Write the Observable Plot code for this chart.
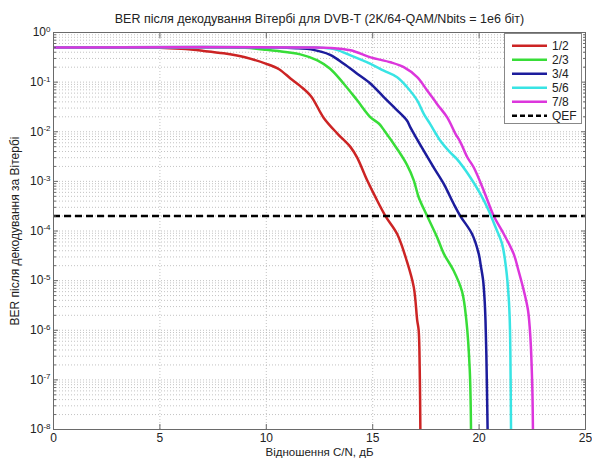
<!DOCTYPE html>
<html><head><meta charset="utf-8">
<script src="https://cdn.jsdelivr.net/npm/d3@7"></script>
<script src="https://cdn.jsdelivr.net/npm/@observablehq/plot@0.6"></script>
<style>
body{margin:0;background:#fff;font-family:"Liberation Sans",Arial,sans-serif;}
#wrap{position:relative;width:592px;height:462px;}
</style></head><body><div id="wrap"></div>
<script>
const titleText = "BER після декодування Вітербі для DVB-T (2K/64-QAM/Nbits = 1e6 біт)";
const xLabel = "Відношення C/N, дБ";
const yLabel = "BER після декодування за Вітербі";
const seriesNames = ["1/2","2/3","3/4","5/6","7/8"];
const seriesColors = ["#cc2424","#38dd38","#1c1c9c","#38e4e4","#dc36dc"];
const qefName = "QEF";
const qefLevel = 2e-4;
const xTicks = [0,5,10,15,20,25];
const yTickExps = [0,-1,-2,-3,-4,-5,-6,-7,-8];

const snr12 = [0,4,5,6,7,8,9,10,10.6,11.15,11.6,12.1,12.7,13.35,13.96,14.27,14.74,15.13,15.6,16.15,16.6,16.93,17.09,17.16,17.21,17.24];
const ber12 = [0.5,0.5,0.495,0.468,0.427,0.38,0.316,0.234,0.182,0.117,0.083,0.052,0.019,0.0091,0.0049,0.003,0.00105,4.8e-4,2.0e-4,8.7e-5,2.5e-5,7.4e-6,1.6e-6,1e-6,1.6e-7,1e-8];
const snr23 = [0,8,9,10,11,11.6,12.4,13.0,13.64,14.27,14.9,15.3,15.55,16.15,16.6,16.93,17.16,17.56,18.03,18.34,18.8,19.2,19.4,19.56,19.62];
const ber23 = [0.5,0.5,0.49,0.447,0.398,0.363,0.275,0.186,0.093,0.043,0.0195,0.0145,0.0105,0.0045,0.0022,0.00105,4.8e-4,2.0e-4,7.4e-5,3.5e-5,1.6e-5,6e-6,1.6e-6,1.6e-7,1e-8];
const snr34 = [0,10.5,11.5,12.1,13,13.64,14.27,14.9,15.52,16.15,16.6,16.77,17.3,17.87,18.34,18.81,19.12,19.67,19.98,20.08,20.19,20.26,20.3,20.34,20.4];
const ber34 = [0.5,0.5,0.479,0.457,0.355,0.234,0.148,0.093,0.05,0.027,0.017,0.0123,0.0049,0.0019,8.9e-4,3.5e-4,2.0e-4,8.7e-5,3.5e-5,2e-5,1e-5,4e-6,1.6e-6,3.4e-7,1e-8];
const snr56 = [0,12,12.7,13.3,13.96,14.9,15.52,16.15,16.62,17.09,17.4,17.71,18.18,18.65,18.96,19.59,20.06,20.45,20.77,21.08,21.28,21.39,21.44,21.47,21.5];
const ber56 = [0.5,0.5,0.49,0.447,0.347,0.234,0.17,0.126,0.079,0.043,0.023,0.0141,0.0066,0.0038,0.0028,0.0012,5.6e-4,2.6e-4,1.2e-4,5.5e-5,1.6e-5,4.6e-6,1.6e-6,3.4e-7,1e-8];
const snr78 = [0,12,13,13.96,14.9,15.84,16.46,17.09,17.56,18.03,18.5,18.89,19.12,19.44,19.75,20.22,20.69,21.16,21.62,21.85,22.1,22.3,22.41,22.5,22.53];
const ber78 = [0.5,0.5,0.49,0.437,0.316,0.251,0.2,0.126,0.068,0.036,0.0195,0.0091,0.0062,0.0031,0.0019,6.5e-4,2.0e-4,8.7e-5,3.5e-5,1.6e-5,6.3e-6,2.5e-6,7.2e-7,7e-8,1e-8];

const seriesX = [snr12, snr23, snr34, snr56, snr78];
const seriesY = [ber12, ber23, ber34, ber56, ber78];
const data = seriesNames.flatMap((name, i) => seriesX[i].map((x, j) => ({name, x, y: seriesY[i][j]})));

const yMajor = yTickExps.map(e => Math.pow(10, e));
const yMinor = [];
for (const e of yTickExps) { if (e === 0) continue; for (let k = 2; k <= 9; k++) yMinor.push(k * Math.pow(10, e)); }

const gridStyle = {stroke: "#b4b4b4", strokeDasharray: "1,2", strokeWidth: 0.8};
const axisColor = "#6a6a6a";
const blank = () => "";

const chart = Plot.plot({
  width: 592, height: 462,
  marginLeft: 53, marginRight: 7, marginTop: 32, marginBottom: 33,
  style: {fontFamily: '"Liberation Sans", Arial, sans-serif', fontSize: "12px", color: "#222", background: "#fff"},
  x: {domain: [0, 25]},
  y: {type: "log", domain: [1e-8, 1]},
  color: {domain: seriesNames, range: seriesColors},
  marks: [
    Plot.ruleY(yMajor.concat(yMinor), gridStyle),
    Plot.ruleX(xTicks.slice(1, -1), gridStyle),
    Plot.line(data, {x: "x", y: "y", z: "name", stroke: "name", strokeWidth: 2.5, curve: "catmull-rom", clip: true}),
    Plot.ruleY([qefLevel], {stroke: "#000", strokeWidth: 2.5, strokeDasharray: "7,4"}),
    Plot.frame({stroke: axisColor}),
    Plot.axisX({ticks: xTicks, tickSize: -5, tickPadding: 9, label: null, stroke: axisColor, fontSize: 12}),
    Plot.axisX({anchor: "top", ticks: xTicks, tickSize: -5, tickFormat: blank, label: null, stroke: axisColor}),
    Plot.axisY({ticks: yMajor, tickSize: -5, tickPadding: 8, tickFormat: d => `10^${Math.round(Math.log10(d))}`, label: null, stroke: axisColor, fontSize: 12}),
    Plot.axisY({ticks: yMinor, tickSize: -3, tickFormat: blank, label: null, stroke: axisColor}),
    Plot.axisY({anchor: "right", ticks: yMajor, tickSize: -5, tickFormat: blank, label: null, stroke: axisColor}),
    Plot.axisY({anchor: "right", ticks: yMinor, tickSize: -3, tickFormat: blank, label: null, stroke: axisColor}),
    Plot.text([titleText], {text: d => d, frameAnchor: "top", dy: -18, fontSize: 12.5, fill: "#222"}),
    Plot.text([xLabel], {text: d => d, frameAnchor: "bottom", dy: 26.5, fontSize: 11.5, fill: "#222"}),
    Plot.text([yLabel], {text: d => d, frameAnchor: "left", textAnchor: "middle", rotate: -90, dx: -38, fontSize: 12, fill: "#222"})
  ]
});
document.getElementById("wrap").appendChild(chart);

// superscript exponents for log tick labels
d3.select(chart).selectAll("text").each(function() {
  const t = this.textContent;
  const m = /^10\^(-?\d+)$/.exec(t);
  if (!m) return;
  const sel = d3.select(this);
  sel.text("10");
  sel.append("tspan").attr("dy", "-0.55em").attr("font-size", "8px").text(m[1]);
});

// legend
const legendItems = seriesNames.map((n, i) => ({name: n, color: seriesColors[i], dash: null}))
  .concat([{name: qefName, color: "#000", dash: "5,3"}]);
const lg = d3.select("#wrap").append("svg")
  .style("position", "absolute").style("left", "504px").style("top", "33px")
  .attr("width", 78).attr("height", 92)
  .style("font-family", '"Liberation Sans", Arial, sans-serif').style("font-size", "12px");
lg.append("rect").attr("x", 0.5).attr("y", 0.5).attr("width", 77).attr("height", 90)
  .attr("fill", "#fff").attr("stroke", "#888");
const it = lg.selectAll("g").data(legendItems).join("g")
  .attr("transform", (d, i) => `translate(0,${12.7 + i * 14})`);
it.append("line").attr("x1", 8).attr("x2", 43).attr("stroke", d => d.color)
  .attr("stroke-width", 2.5).attr("stroke-dasharray", d => d.dash);
it.append("text").attr("x", 48).attr("dy", "0.35em").attr("fill", "#222").text(d => d.name);
</script>
</body></html>
